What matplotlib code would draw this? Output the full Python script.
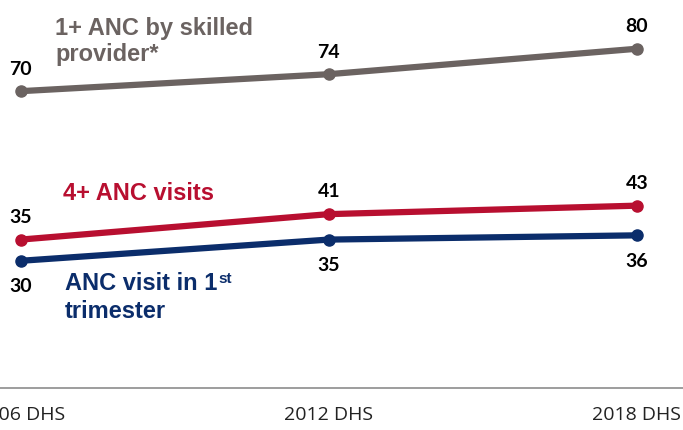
import matplotlib.pyplot as plt

surveys = ['2006 DHS', '2012 DHS', '2018 DHS']
skilled_anc = [70, 74, 80]
anc_4plus = [35, 41, 43]
anc_first_trim = [30, 35, 36]

grey = '#6b6361'
red = '#b80f30'
navy = '#0b2d6b'

fig = plt.figure(figsize=(6.83, 4.30), dpi=100)
ax = fig.add_axes([0, 42 / 430, 1, 388 / 430])

x = range(len(surveys))
for vals, col in [(skilled_anc, grey), (anc_4plus, red), (anc_first_trim, navy)]:
    ax.plot(x, vals, color=col, lw=4.5, marker='o', ms=8, solid_capstyle='round', zorder=3)

# value labels: above for the top two series, below for the 1st trimester line
num_font = dict(fontsize=14, fontweight='bold', family='Lato', color='black', ha='center', va='baseline')
for i, v in enumerate(skilled_anc):
    ax.annotate(str(v), (i, v), xytext=(0, 12), textcoords='offset points', **num_font)
for i, v in enumerate(anc_4plus):
    ax.annotate(str(v), (i, v), xytext=(0, 12), textcoords='offset points', **num_font)
for i, v in enumerate(anc_first_trim):
    ax.annotate(str(v), (i, v), xytext=(0, -22.5), textcoords='offset points', **num_font)

# series names
lab = dict(fontsize=17, fontweight='bold', family='Liberation Sans', va='baseline', ha='left')
ax.text(0.112, 83.3, '1+ ANC by skilled', color=grey, **lab)
ax.text(0.112, 77.0, 'provider*', color=grey, **lab)
ax.text(0.138, 44.3, '4+ ANC visits', color=red, **lab)
t = ax.text(0.144, 23.1, 'ANC visit in 1', color=navy, **lab)
ax.annotate('st', xy=(1, 1), xycoords=t, xytext=(1, 0), textcoords='offset points',
            fontsize=11, fontweight='bold', family='Liberation Sans', color=navy, va='top', ha='left')
ax.text(0.144, 16.5, 'trimester', color=navy, **lab)

ax.set_xlim(-20.7 / 308, 662.3 / 308)
ax.set_ylim(0, 91.5)
ax.set_xticks(list(x))
ax.set_xticklabels(surveys, fontsize=14, family='Open Sans', color='#222222')
ax.tick_params(axis='x', length=0, pad=13)
ax.set_yticks([])
for s in ['top', 'left', 'right']:
    ax.spines[s].set_visible(False)
ax.spines['bottom'].set_color('#8c8c8c')
ax.spines['bottom'].set_linewidth(1.2)

fig.savefig('out.png', dpi=100)
